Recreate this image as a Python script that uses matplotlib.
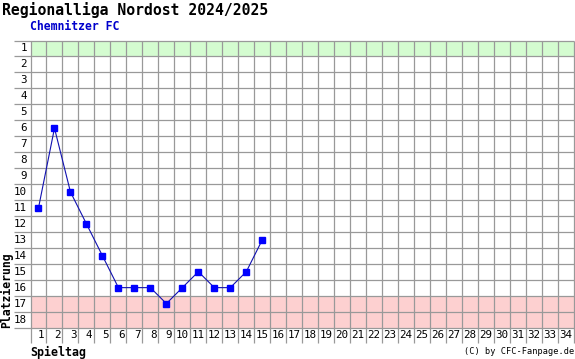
import matplotlib.pyplot as plt
import matplotlib.transforms as mtransforms

# Spieltag / Platzierung data
spieltage = [1, 2, 3, 4, 5, 6, 7, 8, 9, 10, 11, 12, 13, 14, 15]
platzierung = [11, 6, 10, 12, 14, 16, 16, 16, 17, 16, 15, 16, 16, 15, 13]
n_spieltage = 34
n_teams = 18
aufstieg_plaetze = [1]
abstieg_plaetze = [17, 18]

W, H = 575, 359
fig = plt.figure(figsize=(W / 100, H / 100), dpi=100)
fig.patch.set_facecolor("white")

left, right, top, bottom = 30.5, 574.0, 40.5, 327.5
ax = fig.add_axes([left / W, (H - bottom) / H, (right - left) / W, (bottom - top) / H])
ax.set_xlim(0.5, n_spieltage + 0.5)
ax.set_ylim(n_teams + 0.5, 0.5)
ax.axis("off")

grid_col = "#999999"
# colored zones
for p in aufstieg_plaetze:
    ax.axhspan(p - 0.5, p + 0.5, color="#d4fcd0", zorder=0, lw=0)
for p in abstieg_plaetze:
    ax.axhspan(p - 0.5, p + 0.5, color="#fdd0d0", zorder=0, lw=0)

# grid lines, extended into the label areas
dx = 16.5 / ((right - left) / n_spieltage)
dy = 15.5 / ((bottom - top) / n_teams)
for i in range(n_teams + 1):
    y = i + 0.5
    ax.plot([0.5 - dx, n_spieltage + 0.5], [y, y], color=grid_col, lw=0.9,
            clip_on=False, zorder=1, solid_capstyle="butt")
for j in range(n_spieltage + 1):
    x = j + 0.5
    ax.plot([x, x], [0.5, n_teams + 0.5 + dy], color=grid_col, lw=0.9,
            clip_on=False, zorder=1, solid_capstyle="butt")

mono = "DejaVu Sans Mono"

# y labels
off_y = mtransforms.ScaledTranslation(-3.5 / 100, 0, fig.dpi_scale_trans)
for p in range(1, n_teams + 1):
    ax.text(0.5, p, str(p), ha="right", va="center", fontsize=7.8,
            family=mono, transform=ax.transData + off_y)

# x labels
off_x = mtransforms.ScaledTranslation(-2 / 100, 0, fig.dpi_scale_trans)
for s in range(1, n_spieltage + 1):
    ax.text(s + 0.5, n_teams + 0.5 + dy * 0.5, str(s), ha="right", va="center",
            fontsize=7.8, family=mono, transform=ax.transData + off_x)

# data line
ax.plot(spieltage, platzierung, color="#1010b0", lw=0.8, marker="s",
        markersize=4.2, markerfacecolor="#0000ff", markeredgecolor="#0000ff",
        zorder=3, clip_on=False)

# texts
fig.text(2 / W, 1 - 15 / H, "Regionalliga Nordost 2024/2025", fontsize=10.6,
         family=mono, fontweight="bold", ha="left", va="baseline")
fig.text(30 / W, 1 - 30 / H, "Chemnitzer FC", fontsize=8.3, family=mono,
         fontweight="bold", color="#0000cc", ha="left", va="baseline")
fig.text(7 / W, 1 - 328 / H, "Platzierung", fontsize=8.3, family=mono,
         fontweight="bold", rotation=90, ha="center", va="bottom")
fig.text(30 / W, 1 - 352 / H, "Spieltag", fontsize=8.4, family=mono,
         fontweight="bold", ha="left", va="center")
fig.text(574 / W, 1 - 352 / H, "(C) by CFC-Fanpage.de", fontsize=6.2,
         family=mono, ha="right", va="center")

fig.savefig("out.png", dpi=100, facecolor="white")
